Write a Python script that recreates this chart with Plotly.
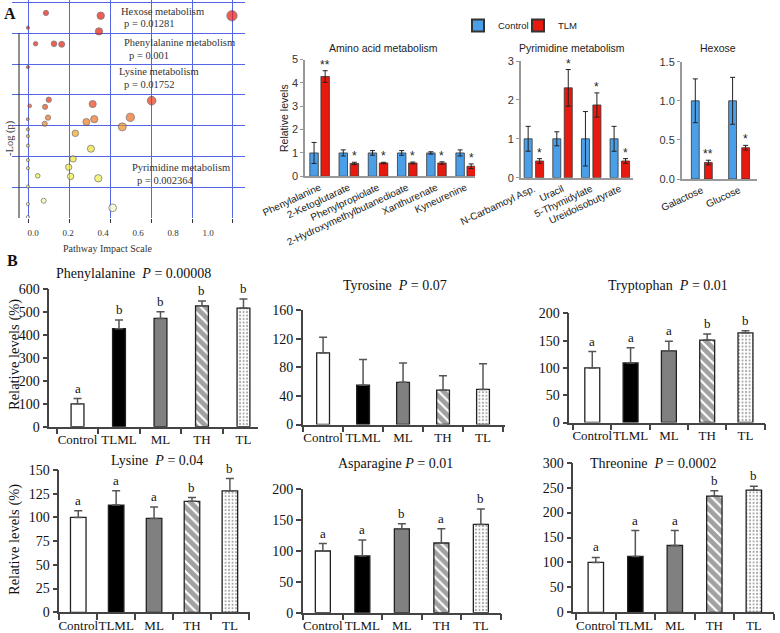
import plotly.graph_objects as go

W, H = 780, 633

# ---------------- panel A : pathway bubble plot ----------------
impact = [0.074, 0.387, 1.137, -0.029, 0.377, 0.015, 0.12, 0.164, -0.029, 0.09,
          -0.019, 0.069, 0.341, 0.678, 0.086, -0.03, 0.35, 0.305, 0.556, 0.067,
          0.51, -0.029, 0.242, -0.029, -0.029, 0.331, 0.229, -0.029, -0.029, 0.204,
          0.027, 0.215, 0.373, -0.029, 0.061, -0.029, 0.455, -0.029]
neg_log_p = [6.66, 6.57, 6.57, 6.18, 6.06, 5.66, 5.66, 5.64, 4.90, 3.84,
             3.64, 3.61, 3.70, 3.81, 3.26, 3.21, 3.21, 3.12, 3.27, 3.06,
             2.96, 2.88, 2.75, 2.66, 2.35, 2.25, 1.92, 1.88, 1.62, 1.65,
             1.37, 1.35, 1.29, 1.02, 0.56, 0.45, 0.33, 0.03]
impact_ticks = [0.0, 0.2, 0.4, 0.6, 0.8, 1.0]
pathways = ["Hexose metabolism", "Phenylalanine metabolism", "Lysine metabolism", "Pyrimidine metabolism"]
pathway_p = ["p = 0.01281", "p = 0.001", "p = 0.01752", "p = 0.002364"]

# ---------------- panel A : bar charts ----------------
amino_names = ["Phenylalanine", "2-Ketoglutarate", "Phenylpropiolate",
               "2-Hydroxymethylbutanedioate", "Xanthurenate", "Kyneurenine"]
amino_ctrl = [1, 1, 1, 1, 1, 1]
amino_ctrl_err = [0.45, 0.13, 0.1, 0.1, 0.05, 0.13]
amino_tlm = [4.27, 0.55, 0.57, 0.57, 0.57, 0.43]
amino_tlm_err = [0.25, 0.05, 0.03, 0.04, 0.05, 0.1]
amino_sig = ["**", "*", "*", "*", "*", "*"]

pyr_names = ["N-Carbamoyl Asp.", "Uracil", "5-Thymidylate", "Ureidoisobutyrate"]
pyr_ctrl = [1, 1, 1, 1]
pyr_ctrl_err = [0.32, 0.18, 0.7, 0.32]
pyr_tlm = [0.43, 2.31, 1.87, 0.43]
pyr_tlm_err = [0.06, 0.47, 0.31, 0.06]
pyr_sig = ["*", "*", "*", "*"]

hex_names = ["Galactose", "Glucose"]
hex_ctrl = [1, 1]
hex_ctrl_err = [0.28, 0.3]
hex_tlm = [0.21, 0.4]
hex_tlm_err = [0.03, 0.03]
hex_sig = ["**", "*"]

# ---------------- panel B ----------------
groups = ["Control", "TLML", "ML", "TH", "TL"]
phe_mean = [100, 428, 473, 528, 518]
phe_err = [23, 38, 29, 21, 40]
phe_letters = ["a", "b", "b", "b", "b"]
tyr_mean = [100, 55, 59, 48, 49]
tyr_err = [22, 36, 27, 20, 36]
tyr_letters = ["", "", "", "", ""]
trp_mean = [100, 109, 131, 151, 164]
trp_err = [30, 28, 18, 11, 4]
trp_letters = ["a", "a", "a", "b", "b"]
lys_mean = [100, 113, 99, 117, 128]
lys_err = [7, 15, 12, 4, 13]
lys_letters = ["a", "a", "a", "b", "b"]
asn_mean = [100, 92, 136, 113, 143]
asn_err = [12, 26, 8, 23, 25]
asn_letters = ["a", "a", "b", "a", "b"]
thr_mean = [100, 112, 134, 233, 245]
thr_err = [10, 52, 30, 11, 8]
thr_letters = ["a", "a", "a", "b", "b"]


def dx(a, b):
    return [a / W, b / W]


def dy(top, bottom):
    return [1 - bottom / H, 1 - top / H]


def note(text, px, py, size, family, color="#222", xanchor="center", angle=0):
    # free text placed in page pixels
    return dict(text=text, x=px / W, y=1 - py / H, xref="paper", yref="paper",
                xanchor=xanchor, yanchor="middle", textangle=angle, showarrow=False,
                font=dict(family=family, size=size, color=color))


SERIF = "Liberation Serif, Times New Roman, serif"
SANS = "Liberation Sans, Arial, sans-serif"
BLUE = "#4b9fe8"
RED = "#e8190f"
GRID = "#5566e6"

fig = go.Figure()
annotations = []

# ---- bubble plot
sizes = [3 + 6.8 * max(v + 0.03, 0) ** 0.5 for v in impact]
fig.add_trace(go.Scatter(
    x=impact, y=neg_log_p, mode="markers", showlegend=False,
    marker=dict(size=sizes, color=neg_log_p, cmin=0, cmax=7, showscale=False,
                colorscale=[[0.0, "#fdfde2"], [0.05, "#fafac8"], [0.10, "#f5f590"],
                            [0.2, "#eeee40"], [0.32, "#f0e030"], [0.39, "#f0a820"],
                            [0.44, "#f08020"], [0.47, "#ee6a1e"], [0.52, "#e84818"],
                            [0.56, "#e82a12"], [1.0, "#e8150f"]],
                line=dict(color="#444", width=0.8)),
    xaxis="x", yaxis="y"))
# invisible carrier so the tick-label axis is drawn
fig.add_trace(go.Scatter(x=impact_ticks, y=[0] * len(impact_ticks), mode="markers",
                         marker=dict(opacity=0), showlegend=False, hoverinfo="skip",
                         xaxis="x2", yaxis="y"))

x_lo, x_hi = (12 - 33) / 175, (245 - 33) / 175
grid_x = [(p - 33) / 175 for p in (28, 69, 110, 151, 192, 232)]
fig.update_layout(
    xaxis=dict(domain=dx(12, 245), range=[x_lo, x_hi], tickvals=grid_x,
               ticktext=[""] * 6, showgrid=True, gridcolor=GRID, gridwidth=1,
               ticks="outside", ticklen=4, tickcolor="#334", zeroline=False,
               anchor="y", automargin=False),
    xaxis2=dict(domain=dx(12, 245), range=[x_lo, x_hi], overlaying="x", side="bottom",
                tickvals=impact_ticks, tickformat=".1f", showgrid=False,
                ticks="", ticklabelstandoff=8, zeroline=False, anchor="y",
                automargin=False, tickfont=dict(family=SERIF, size=9, color="#333")),
    yaxis=dict(domain=dy(0, 218), range=[0, 7.08], dtick=1, showgrid=True,
               gridcolor=GRID, gridwidth=1, showticklabels=False,
               zeroline=False, anchor="x", automargin=False),
)
shapes = [dict(type="line", xref="x", yref="y", x0=(19 - 33) / 175,
               x1=(19 - 33) / 175, y0=0, y1=6, line=dict(color="#222", width=1))]

label_pos = [(119, 11, 122, 23), (122, 43, 127, 55), (117, 72, 122, 85), (130, 167, 135, 180)]
for name, p, (x1, y1, x2, y2) in zip(pathways, pathway_p, label_pos):
    annotations.append(note(name, x1, y1, 10.5, SERIF, "#333", xanchor="left"))
    annotations.append(note(p, x2, y2, 10.5, SERIF, "#333", xanchor="left"))

annotations.append(note("-Log (p)", 10, 138, 10.5, SERIF, "#333", angle=-90))
annotations.append(note("Pathway Impact Scale", 107, 248, 10, SERIF, "#333"))
annotations.append(note("<b>A</b>", 10, 14, 16, SERIF, "#111"))
annotations.append(note("<b>B</b>", 12, 261, 16, SERIF, "#111"))


# ---- panel A bar charts
def add_a_chart(n, names, ctrl, ctrl_err, tlm, tlm_err, sig, cfg):
    xa, ya = "x%d" % n, "y%d" % n
    w = cfg["w"]
    fig.add_trace(go.Bar(x=names, y=ctrl, name="Control", showlegend=(n == 3),
                         width=w, offset=-cfg["off"] - w / 2,
                         marker=dict(color=BLUE, line=dict(color="#333", width=0.8)),
                         error_y=dict(type="data", array=ctrl_err, color="#222",
                                      thickness=1, width=2.5),
                         xaxis=xa, yaxis=ya))
    fig.add_trace(go.Bar(x=names, y=tlm, name="TLM", showlegend=(n == 3),
                         width=w, offset=cfg["off"] - w / 2,
                         marker=dict(color=RED, line=dict(color="#333", width=0.8)),
                         error_y=dict(type="data", array=tlm_err, color="#222",
                                      thickness=1, width=2.5),
                         xaxis=xa, yaxis=ya))
    fig.layout["xaxis%d" % n] = dict(
        domain=dx(*cfg["xd"]), range=cfg["xr"], type="category", anchor=ya,
        showline=True, linecolor="#999", linewidth=1.5, ticks="", tickangle=-25,
        automargin=False,
        tickfont=dict(family=SANS, size=10, color="#222"), showgrid=False)
    fig.layout["yaxis%d" % n] = dict(
        domain=dy(*cfg["yd"]), range=cfg["yr"], dtick=cfg["dt"], anchor=xa,
        tickformat=cfg.get("fmt", ""), showline=True, linecolor="#999", linewidth=1.5,
        ticks="outside", ticklen=3, tickcolor="#999", showgrid=False, zeroline=False,
        automargin=False, tickfont=dict(family=SANS, size=11, color="#333"))
    for i, s in enumerate(sig):
        annotations.append(dict(text=s, xref=xa, yref=ya, x=i + cfg["off"],
                                y=tlm[i] + tlm_err[i], xanchor="center", yanchor="bottom",
                                yshift=-3, showarrow=False,
                                font=dict(family=SANS, size=12, color="#222")))
    annotations.append(note(cfg["title"], cfg["tx"], 48, 10.5, SANS))


add_a_chart(3, amino_names, amino_ctrl, amino_ctrl_err, amino_tlm, amino_tlm_err, amino_sig,
            dict(w=0.29, off=0.19, xd=(305, 475), xr=[-0.5, 5.32], yd=(59.5, 176.3),
                 yr=[0, 5], dt=1, title="Amino acid metabolism", tx=383))
add_a_chart(4, pyr_names, pyr_ctrl, pyr_ctrl_err, pyr_tlm, pyr_tlm_err, pyr_sig,
            dict(w=0.28, off=0.2, xd=(520.7, 633), xr=[-0.46, 3.46], yd=(61, 177.7),
                 yr=[0, 3], dt=1, title="Pyrimidine metabolism", tx=572))
add_a_chart(5, hex_names, hex_ctrl, hex_ctrl_err, hex_tlm, hex_tlm_err, hex_sig,
            dict(w=0.21, off=0.175, xd=(681.7, 757), xr=[-0.54, 1.48], yd=(61.7, 179),
                 yr=[0, 1.5], dt=0.5, fmt=".1f", title="Hexose", tx=718))
annotations.append(note("Relative levels", 284, 118, 10.5, SANS, angle=-90))

# ---- panel B bar charts
fills = ["white", "black", "#808080", "white", "white"]
pshape = ["", "", "", "\\", "."]
psize = [8, 8, 8, 7, 3.5]
psolid = [0.3, 0.3, 0.3, 0.7, 0.25]


def add_b_chart(n, mean, err, letters, cfg):
    xa, ya = "x%d" % n, "y%d" % n
    fig.add_trace(go.Bar(
        x=groups, y=mean, width=cfg["w"], showlegend=False,
        marker=dict(color=fills, line=dict(color="#222", width=1.3),
                    pattern=dict(shape=pshape, fgcolor="black", bgcolor=fills,
                                 size=psize, solidity=psolid)),
        error_y=dict(type="data", symmetric=False, array=err, arrayminus=[0] * 5,
                     color="#555", thickness=1.5, width=4),
        xaxis=xa, yaxis=ya))
    fig.layout["xaxis%d" % n] = dict(
        domain=dx(*cfg["xd"]), range=cfg["xr"], type="category", anchor=ya,
        showline=True, linecolor="#444", linewidth=1.5, ticks="outside",
        tickson="boundaries", ticklen=6, tickcolor="#444", tickwidth=1.5, showgrid=False,
        tickangle=0, automargin=False,
        tickfont=dict(family=SERIF, size=13, color="#111"))
    fig.layout["yaxis%d" % n] = dict(
        domain=dy(*cfg["yd"]), range=cfg["yr"], dtick=cfg["dt"], anchor=xa,
        showline=True, linecolor="#444", linewidth=1.5, ticks="outside", ticklen=5,
        tickcolor="#444", tickwidth=1.5, showgrid=False, zeroline=False,
        automargin=False, tickfont=dict(family=SERIF, size=14, color="#111"))
    for i, s in enumerate(letters):
        if s:
            annotations.append(dict(text=s, xref=xa, yref=ya, x=i, y=mean[i] + err[i],
                                    xanchor="center", yanchor="bottom", yshift=1,
                                    showarrow=False,
                                    font=dict(family=SERIF, size=13, color="#111")))
    annotations.append(note(cfg["title"], cfg["t"][0], cfg["t"][1], 14, SERIF, "#111"))


add_b_chart(6, phe_mean, phe_err, phe_letters,
            dict(w=0.31, xd=(49.3, 258), xr=[-0.68, 4.35], yd=(289.3, 426.7), yr=[0, 600],
                 dt=100, title="Phenylalanine  <i>P</i> = 0.00008", t=(133, 273)))
add_b_chart(7, tyr_mean, tyr_err, tyr_letters,
            dict(w=0.32, xd=(302.7, 505), xr=[-0.51, 4.55], yd=(310, 424.5), yr=[0, 160],
                 dt=40, title="Tyrosine  <i>P</i> = 0.07", t=(395, 286)))
add_b_chart(8, trp_mean, trp_err, trp_letters,
            dict(w=0.39, xd=(569.3, 765.4), xr=[-0.6, 4.52], yd=(313.3, 422.5), yr=[0, 200],
                 dt=50, title="Tryptophan  <i>P</i> = 0.01", t=(668, 286)))
add_b_chart(9, lys_mean, lys_err, lys_letters,
            dict(w=0.41, xd=(59.3, 249.6), xr=[-0.5, 4.52], yd=(470, 612.3), yr=[0, 150],
                 dt=25, title="Lysine  <i>P</i> = 0.04", t=(157, 460)))
add_b_chart(10, asn_mean, asn_err, asn_letters,
            dict(w=0.38, xd=(302.7, 501.4), xr=[-0.51, 4.52], yd=(489.3, 612.7), yr=[0, 200],
                 dt=50, title="Asparagine <i>P</i> = 0.01", t=(395, 463)))
add_b_chart(11, thr_mean, thr_err, thr_letters,
            dict(w=0.39, xd=(573.3, 774.4), xr=[-0.57, 4.52], yd=(462.7, 612.3), yr=[0, 300],
                 dt=50, title="Threonine  <i>P</i> = 0.0002", t=(653, 463)))

for yc in (355, 540):
    annotations.append(note("Relative levels (%)", 14, yc, 14.5, SERIF, "#111", angle=-90))

fig.update_layout(
    width=W, height=H, margin=dict(l=0, r=0, t=0, b=0, autoexpand=False),
    paper_bgcolor="white", plot_bgcolor="white", barmode="overlay",
    annotations=annotations, shapes=shapes,
    legend=dict(orientation="h", x=458 / W, y=1 - 11 / H, xanchor="left", yanchor="top",
                font=dict(family=SANS, size=9.5, color="#222"), bgcolor="rgba(0,0,0,0)",
                entrywidth=15, itemsizing="constant"),
)

# page body has a default 8px margin; drop it so the figure sits at the window corner
fig.write_html("out.html", config={"displayModeBar": False},
               post_script="document.body.style.margin='0';")
